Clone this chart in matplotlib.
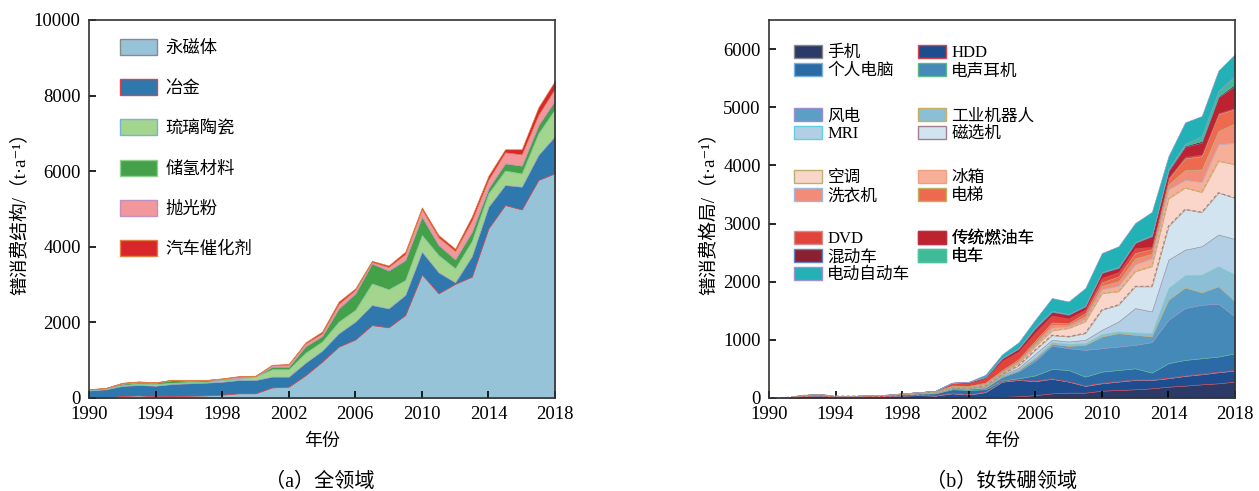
import numpy as np
import matplotlib
matplotlib.use("Agg")
import matplotlib.pyplot as plt
from matplotlib.patches import Patch

FONTS = ['Liberation Serif', 'Noto Sans CJK SC', 'DejaVu Sans']
plt.rcParams['font.family'] = FONTS
plt.rcParams['axes.unicode_minus'] = False

years = np.arange(1990, 2019)

# ---------------- (a) 全领域 ----------------
left_names = ["永磁体", "冶金", "琉璃陶瓷", "储氢材料", "抛光粉", "汽车催化剂"]
magnet = [0, 10, 55, 70, 45, 50, 60, 70, 90, 125, 125, 280, 300, 600, 960, 1360, 1550, 1930,
          1870, 2195, 3270, 2770, 3020, 3210, 4490, 5105, 4990, 5770, 5945]
metallurgy = [200, 220, 265, 275, 280, 320, 330, 335, 340, 350, 350, 285, 265, 330, 290, 350, 470, 530,
              500, 530, 600, 555, 40, 540, 570, 530, 600, 660, 985]
glass = [15, 15, 20, 35, 45, 30, 30, 25, 40, 35, 90, 195, 195, 265, 240, 310, 310, 570,
         505, 395, 440, 455, 370, 400, 355, 380, 350, 570, 710]
hydrogen = [10, 10, 40, 35, 35, 75, 40, 40, 20, 20, 5, 70, 70, 175, 150, 350, 440, 530,
            500, 530, 490, 270, 240, 250, 135, 195, 210, 220, 240]
polish = [5, 5, 15, 15, 5, 5, 5, 3, 20, 35, 10, 40, 55, 70, 70, 120, 90, 40,
          90, 160, 190, 200, 220, 300, 230, 290, 295, 270, 310]
catalyst = [5, 5, 10, 10, 5, 5, 5, 2, 10, 15, 10, 10, 15, 30, 45, 60, 40, 30,
            40, 60, 55, 60, 60, 100, 100, 80, 135, 200, 205]
left_colors = ['#97c3d9', '#2e78ae', '#a3d58f', '#45a04a', '#f2979b', '#d9262a']
left_edges = ['#8a8a8a', '#e0404a', '#7ab0e0', '#8fd08f', '#c090c0', '#e08040']

# ---------------- (b) 钕铁硼领域 ----------------
right_names = ["手机", "HDD", "个人电脑", "电声耳机", "风电", "工业机器人", "MRI", "磁选机",
               "空调", "冰箱", "洗衣机", "电梯", "DVD", "传统燃油车", "混动车", "电车", "电动自动车"]
phone = [0, 0, 0, 0, 0, 0, 0, 0, 0, 0, 2, 5, 5, 10, 20, 30, 50, 80,
         92, 92, 126, 138, 150, 167, 195, 213, 235, 253, 282]
hdd = [0, 3, 30, 40, 20, 20, 25, 28, 40, 50, 38, 75, 55, 90, 260, 280, 240, 250,
       190, 115, 127, 144, 160, 143, 145, 167, 173, 190, 189]
pc = [0, 2, 10, 12, 8, 8, 10, 12, 18, 25, 40, 70, 80, 50, 20, 30, 100, 170,
      201, 161, 201, 201, 201, 127, 260, 275, 276, 270, 299]
audio = [0, 0, 2, 3, 2, 2, 3, 3, 5, 7, 8, 15, 20, 30, 60, 120, 250, 400,
         373, 460, 402, 402, 403, 523, 745, 891, 919, 907, 630]
wind = [0, 0, 0, 0, 0, 0, 0, 0, 0, 0, 1, 2, 3, 5, 10, 20, 40, 30,
        41, 86, 201, 230, 172, 100, 345, 354, 213, 300, 260]
robot = [0, 0, 0, 0, 0, 0, 0, 0, 0, 0, 1, 3, 3, 5, 10, 20, 20, 30,
         34, 29, 41, 29, 40, 55, 200, 210, 304, 345, 460]
mri = [0, 0, 1, 2, 1, 1, 1, 1, 2, 2, 2, 5, 4, 10, 15, 20, 60, 40,
       40, 57, 74, 172, 420, 373, 490, 440, 490, 545, 615]
separator = [0, 0, 0, 0, 0, 0, 0, 0, 1, 1, 2, 5, 5, 10, 15, 40, 70, 80,
             86, 115, 345, 287, 374, 432, 575, 695, 585, 720, 705]
aircon = [0, 0, 0, 0, 0, 0, 0, 0, 0, 1, 3, 10, 10, 15, 15, 40, 60, 80,
          144, 201, 283, 230, 258, 344, 475, 370, 345, 545, 577]
fridge = [0, 0, 1, 1, 0, 0, 1, 1, 1, 1, 3, 5, 5, 10, 15, 20, 30, 50,
          29, 44, 70, 97, 122, 136, 156, 135, 173, 285, 373]
washer = [0, 0, 1, 1, 0, 0, 1, 1, 1, 1, 5, 10, 10, 15, 15, 20, 30, 50,
          30, 50, 60, 80, 100, 80, 86, 170, 217, 230, 334]
elevator = [0, 0, 1, 1, 0, 0, 1, 1, 2, 2, 5, 10, 10, 15, 25, 30, 40, 40,
            27, 50, 60, 80, 94, 80, 98, 200, 230, 290, 241]
dvd = [0, 0, 5, 8, 3, 3, 4, 5, 8, 10, 10, 35, 50, 75, 160, 130, 140, 120,
       83, 60, 80, 80, 86, 40, 17, 30, 30, 20, 25]
fuel_car = [0, 0, 0, 0, 0, 0, 0, 0, 0, 0, 2, 10, 15, 20, 40, 50, 70, 60,
            61, 55, 80, 66, 87, 180, 113, 170, 200, 270, 380]
hybrid = [0, 0, 0, 0, 0, 0, 0, 0, 0, 0, 1, 1, 1, 2, 5, 5, 10, 10,
          9, 7, 10, 9, 8, 10, 20, 20, 30, 20, 30]
ev = [0, 0, 0, 0, 0, 0, 0, 0, 0, 0, 1, 1, 1, 2, 5, 5, 10, 10,
      5, 8, 10, 10, 10, 10, 20, 30, 85, 90, 140]
e_vehicle = [0, 0, 0, 0, 0, 0, 0, 0, 0, 0, 1, 3, 3, 36, 60, 100, 130, 220,
             215, 300, 324, 355, 325, 400, 220, 370, 345, 350, 375]
right_colors = ['#2b3a67', '#1e4d8f', '#2c6aa6', '#4589b9', '#5c9fc6', '#8bbfd5', '#b3cfe5',
                '#d3e4f1', '#fad6ca', '#f7af97', '#f38c76', '#ee6a4f', '#e2433b', '#bd2230',
                '#8b2030', '#3fbc97', '#22b1b4']
right_edges = ['#8a8a8a', '#e0404a', '#7ab0e0', '#5ab88a', '#a08ad0', '#c8b060', '#60d0e0',
               '#a08090', '#b8b070', '#f0a080', '#a0b8e0', '#c0b060', '#d09090', '#c03040',
               '#6080c0', '#50c0a0', '#a090d0']

left_data = [magnet, metallurgy, glass, hydrogen, polish, catalyst]
right_data = [phone, hdd, pc, audio, wind, robot, mri, separator, aircon, fridge, washer,
              elevator, dvd, fuel_car, hybrid, ev, e_vehicle]

W, H = 1259, 491
fig = plt.figure(figsize=(W / 100, H / 100), dpi=100)
ax1 = fig.add_axes([89 / W, 93 / H, 466 / W, 378 / H])
ax2 = fig.add_axes([769 / W, 93 / H, 466 / W, 378 / H])


def style_axes(ax):
    for s in ax.spines.values():
        s.set_color('#333333')
        s.set_linewidth(1.2)
    ax.tick_params(direction='in', length=5, width=1.2, labelsize=13.5, pad=6,
                   top=False, right=False)
    ax.set_xlim(1990, 2018)
    ax.set_xticks(np.arange(1990, 2019, 4))
    ax.set_xlabel("年份", fontsize=13, labelpad=7)


# left chart
polys = ax1.stackplot(years, *left_data, colors=left_colors, labels=left_names)
for p, ec in zip(polys, left_edges):
    p.set_edgecolor(ec)
    p.set_linewidth(0.5)
ax1.set_ylim(0, 10000)
ax1.set_yticks(np.arange(0, 10001, 2000))
style_axes(ax1)
ax1.set_ylabel("镨消费结构/（t·a⁻¹）", fontsize=13.5, labelpad=3)
handles = [Patch(facecolor=c, edgecolor=e, linewidth=1) for c, e in zip(left_colors, left_edges)]
ax1.legend(handles, left_names, loc='upper left', bbox_to_anchor=(120 / W, 1 - 39 / H),
           bbox_transform=fig.transFigure, frameon=False, borderpad=0, borderaxespad=0,
           fontsize=12.5, handlelength=2.15, handleheight=1.05, handletextpad=0.45,
           labelspacing=1.28)

# right chart
polys = ax2.stackplot(years, *right_data, colors=right_colors, labels=right_names)
for p, ec in zip(polys, right_edges):
    p.set_edgecolor(ec)
    p.set_linewidth(0.4)
tops = np.cumsum(np.array(right_data, dtype=float), axis=0)
for i in (1, 7, 8):
    ax2.plot(years, tops[i], color=right_edges[i], lw=0.8, ls=(0, (3, 2)))
ax2.set_ylim(0, 6500)
ax2.set_yticks(np.arange(0, 6001, 1000))
style_axes(ax2)
ax2.set_ylabel("镨消费格局/（t·a⁻¹）", fontsize=13.5, labelpad=3)

rhandles = [Patch(facecolor=c, edgecolor=e, linewidth=1) for c, e in zip(right_colors, right_edges)]
groups = [([0, 2], [1, 3], 45), ([4, 6], [5, 7], 108), ([8, 10], [9, 11], 170),
          ([12, 14, 16], [13, 15], 231)]
for col1, col2, top in groups:
    for idx, x0 in ((col1, 794), (col2, 918)):
        leg = ax2.legend([rhandles[i] for i in idx], [right_names[i] for i in idx],
                         loc='upper left', bbox_to_anchor=(x0 / W, 1 - top / H),
                         bbox_transform=fig.transFigure, frameon=False, borderpad=0,
                         borderaxespad=0, fontsize=12, handlelength=1.7, handleheight=0.85,
                         handletextpad=0.3, labelspacing=0.08)
        ax2.add_artist(leg)

fig.text(320 / W, 1 - 482 / H, "（a）全领域", ha='center', va='center', fontsize=14.5)
fig.text(1002 / W, 1 - 482 / H, "（b）钕铁硼领域", ha='center', va='center', fontsize=14.5)

fig.savefig("out.png", dpi=100)
